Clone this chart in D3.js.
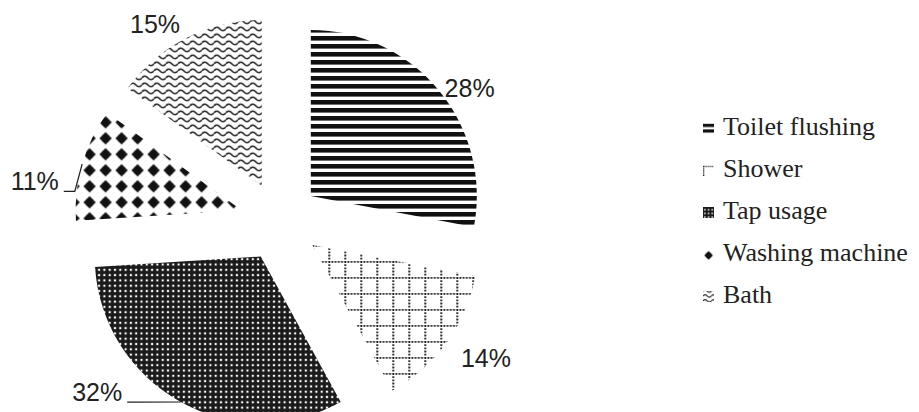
<!DOCTYPE html>
<html>
<head>
<meta charset="utf-8">
<script src="https://cdn.jsdelivr.net/npm/d3@7"></script>
<style>
  html, body { margin: 0; padding: 0; background: #fff; }
  #chart { width: 919px; height: 412px; }
  .pct { font-family: "Liberation Sans", Arial, sans-serif; }
  .leg { font-family: "Liberation Serif", Tinos, "DejaVu Serif", "Noto Serif", serif; }
</style>
</head>
<body>
<div id="chart"></div>
<script>
// water use by activity, share of total (%)
const categories = ['Toilet flushing', 'Shower', 'Tap usage', 'Washing machine', 'Bath'];
const shares = [28, 14, 32, 11, 15];
const patternIds = ['hlines', 'dotgrid', 'dots', 'diamonds', 'waves'];

// label placement tweaks (layout only): angle shift in degrees and distance from slice tip
const labelShift = [5.4, -3, 21.7, -8, -6.4];
const labelDist = [192, 207, 212, 209, 194];
const withLeader = [false, false, true, true, false];

const W = 919, H = 412;
const cx = 280, cy = 221.5, R = 166, explode = 40;

const svg = d3.select('#chart').append('svg')
    .attr('width', W)
    .attr('height', H);

const defs = svg.append('defs');

// one set of fills for the pie, a smaller one for the legend swatches
function addPatterns(suffix, k) {
    const mk = (name, w, h) => defs.append('pattern')
        .attr('id', name + suffix)
        .attr('patternUnits', 'userSpaceOnUse')
        .attr('width', w).attr('height', h)
        .attr('patternTransform', `scale(${k})`);

    mk('hlines', 8, 8).append('rect')
        .attr('x', 0).attr('y', 0).attr('width', 8).attr('height', 4.6)
        .attr('fill', '#111');

    const g = mk('dotgrid', 16, 16);
    g.append('line').attr('x1', 0).attr('y1', 0.9).attr('x2', 16).attr('y2', 0.9);
    g.append('line').attr('x1', 0.9).attr('y1', 0).attr('x2', 0.9).attr('y2', 16);
    g.selectAll('line')
        .attr('stroke', '#111')
        .attr('stroke-width', 1.8)
        .attr('stroke-dasharray', '1.8 1.4');

    const d = mk('dots', 5.3, 5.3);
    d.append('rect').attr('width', 5.3).attr('height', 5.3).attr('fill', '#1a1a1a');
    d.append('rect').attr('x', 1.6).attr('y', 1.6).attr('width', 2.1).attr('height', 2.1).attr('fill', '#fff');

    const m = mk('diamonds', 16, 16);
    m.append('circle').attr('cx', 8).attr('cy', 8).attr('r', 4.2).attr('fill', '#111');
    m.append('path').attr('d', 'M8,1.8 L14.2,8 L8,14.2 L1.8,8 Z').attr('fill', '#111');

    mk('waves', 12, 7).append('path')
        .attr('d', 'M0,4 Q3,0.4 6,4 T12,4')
        .attr('fill', 'none')
        .attr('stroke', '#222')
        .attr('stroke-width', 1.6);
}
addPatterns('', 1);
addPatterns('-sm', 0.7);

const data = categories.map((c, i) => ({ category: c, value: shares[i], i }));

const pie = d3.pie()
    .sort(null)
    .value(d => d.value);

const arc = d3.arc()
    .innerRadius(0)
    .outerRadius(R);

const arcs = pie(data);
const dir = a => [Math.sin(a), -Math.cos(a)];
const mid = d => (d.startAngle + d.endAngle) / 2;

const plot = svg.append('g').attr('transform', `translate(${cx},${cy})`);

const slices = plot.selectAll('g.slice')
    .data(arcs)
    .enter().append('g')
    .attr('class', 'slice')
    .attr('transform', d => {
        const [ux, uy] = dir(mid(d));
        return `translate(${ux * explode},${uy * explode})`;
    });

slices.append('path')
    .attr('d', arc)
    .attr('fill', d => `url(#${patternIds[d.data.i]})`);

// percent labels
const fs = 25;
arcs.forEach(d => {
    const i = d.data.i;
    const m = mid(d);
    const [ux, uy] = dir(m);
    const tipX = ux * explode, tipY = uy * explode;
    const [lx, ly] = dir(m + labelShift[i] * Math.PI / 180);
    const px = tipX + lx * labelDist[i];
    const py = tipY + ly * labelDist[i];

    const t = plot.append('text')
        .attr('class', 'pct')
        .attr('x', px)
        .attr('y', py + fs * 0.37)
        .attr('text-anchor', 'middle')
        .attr('font-size', fs)
        .attr('fill', '#222')
        .text(d.data.value + '%');

    if (withLeader[i]) {
        const half = t.node().getComputedTextLength() / 2;
        const sx = px + half + 5;
        const sy = py + fs * 0.37 + 1.5;
        const ex = tipX + ux * R, ey = tipY + uy * R;
        plot.append('polyline')
            .attr('points', [[sx, sy], [sx + 11, sy], [ex, ey]].map(p => p.join(',')).join(' '))
            .attr('fill', 'none')
            .attr('stroke', '#222')
            .attr('stroke-width', 1.2);
    }
});

// legend
const legendY = d3.scalePoint()
    .domain(categories)
    .range([135, 303]);

const legend = svg.append('g');
const items = legend.selectAll('g')
    .data(data)
    .enter().append('g')
    .attr('transform', d => `translate(703,${legendY(d.category)})`);

items.append('rect')
    .attr('x', 0)
    .attr('y', -12)
    .attr('width', 11)
    .attr('height', 11)
    .attr('fill', d => `url(#${patternIds[d.i]}-sm)`);

items.append('text')
    .attr('class', 'leg')
    .attr('x', 20)
    .attr('y', 0)
    .attr('font-size', 26)
    .attr('fill', '#222')
    .text(d => d.category);
</script>
</body>
</html>
